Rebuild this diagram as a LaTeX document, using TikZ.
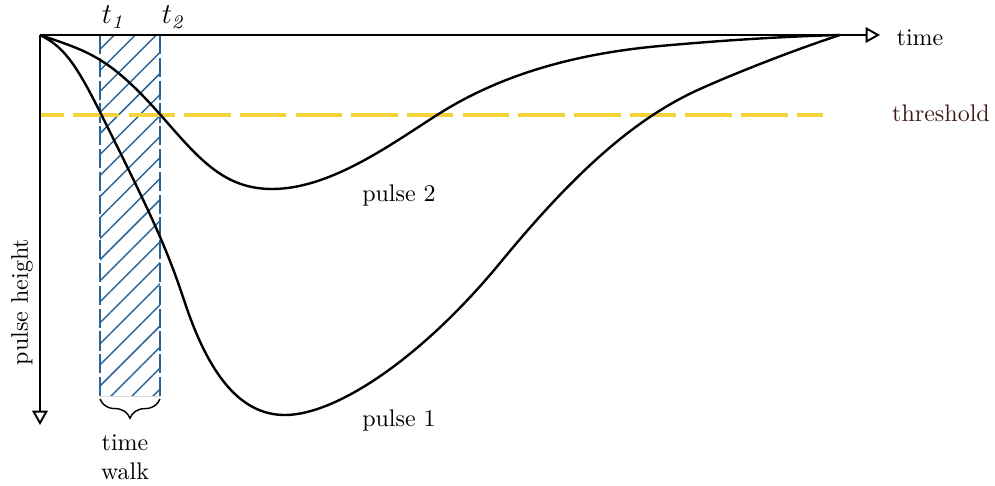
\documentclass[tikz,border=0pt]{standalone}
\usepackage{amsmath}
\usetikzlibrary{arrows.meta,positioning,patterns.meta,decorations.pathreplacing}
\definecolor{walkblue}{HTML}{2A6496}
\definecolor{thryellow}{HTML}{F4D43A}
\definecolor{thrtext}{HTML}{3F1A1A}

\begin{document}
\begin{tikzpicture}[x=0.4167pt,y=-0.4167pt,
  axis/.style={-{Triangle[open,length=6pt,width=6.5pt]},line width=0.8pt},
  pulse/.style={line width=1pt},
  edgeline/.style={walkblue,line width=0.8pt,dash pattern=on 8pt off 1.5pt},
  thrline/.style={thryellow,line width=1.4pt,dash pattern=on 19.4pt off 3.8pt,dash phase=9.5pt},
  hatch/.style={pattern={Lines[angle=45,distance=6.2pt,line width=0.6pt]},pattern color=walkblue}]
\useasboundingbox (0,0) rectangle (995,486);
\coordinate (O) at (40,35);
\coordinate (tend) at (880,35);
\coordinate (hend) at (40,425);
\coordinate (merge) at (840,35);
\coordinate (t1top) at (100,35);
\coordinate (t1bot) at (100,396);
\coordinate (t2top) at (160,35);
\coordinate (t2bot) at (160,396);
\coordinate (thl) at (40,115);
\coordinate (thr) at (823,115);
\coordinate (brl) at (100,399);
\coordinate (brr) at (160,399);
\path[hatch] (t1top) rectangle (t2bot);
\draw[black!15,line width=0.4pt] (t1bot) -- (t2bot);
\draw[edgeline] (t1top) -- (t1bot);
\draw[edgeline] (t2top) -- (t2bot);
\draw[thrline] (thl) -- (thr);
\draw[axis] (O) -- (tend);
\draw[axis] (O) -- (hend);
% pulse 1
\draw[pulse] (O) .. controls (63,46.4) and (75,62) .. (100,112)
  .. controls (154.4,220.8) and (167.2,249.5) .. (185,303)
  .. controls (213,387) and (247.4,415) .. (285,415)
  .. controls (335,415) and (420,360) .. (500,263)
  .. controls (576.6,169.7) and (636.6,117.5) .. (700,89)
  .. controls (740,71) and (800,48) .. (merge);
% pulse 2
\draw[pulse] (O) .. controls (90,52) and (110,57) .. (165,120)
  .. controls (200,160) and (225,189) .. (272,189)
  .. controls (330,189) and (390,145) .. (437,115)
  .. controls (490,81.2) and (560,55) .. (660,46)
  .. controls (740,38.8) and (800,36) .. (merge);
\draw[decorate,decoration={brace,mirror,amplitude=8pt},line width=0.6pt] (brl) -- (brr);
\node (t1) at (114,17) {\large $t_{\mathit{1}}$};
\node (t2) at (174,17) {\large $t_{\mathit{2}}$};
\node (timelbl) at (920,38) {time};
\node[text=thrtext] (thrlbl) at (941,113) {threshold};
\node (p2lbl) at (399,196) {pulse 2};
\node (p1lbl) at (399,420) {pulse 1};
\node[rotate=90] (hlbl) at (22,302) {pulse height};
\node[align=center] (walk) at (125,457) {time\\walk};
\end{tikzpicture}
\end{document}
